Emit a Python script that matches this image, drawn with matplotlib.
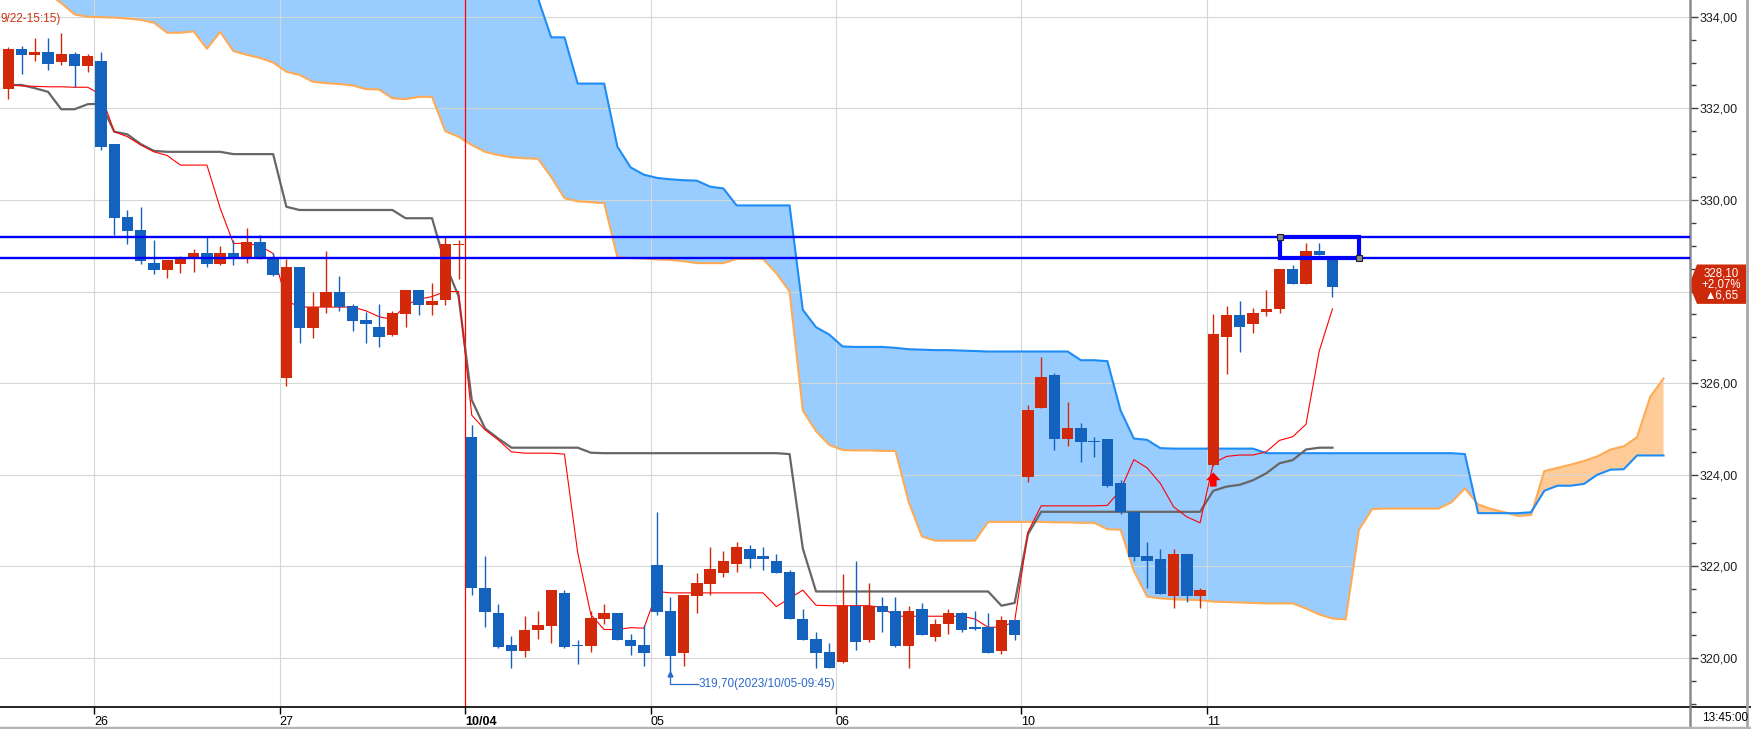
import numpy as np
import matplotlib.pyplot as plt
import matplotlib.transforms as mtransforms
from matplotlib.patches import Polygon, Rectangle
from matplotlib.lines import Line2D
from matplotlib.ticker import MultipleLocator

plt.rcParams['font.family'] = ['Liberation Sans', 'DejaVu Sans']

# 30-minute bars, 9/22 (tail) .. 10/11
opens = [332.42, 333.29, 333.16, 333.23, 333.01, 333.18, 332.93, 333.03, 331.23, 329.63,
         329.34, 328.62, 328.48, 328.61, 328.74, 328.83, 328.61, 328.83, 328.76, 329.08,
         328.74, 326.12, 328.54, 327.21, 327.66, 327.99, 327.68, 327.38, 327.23, 327.05,
         327.51, 328.03, 327.71, 327.81, 329.01, 324.83, 321.52, 320.99, 320.28, 320.16,
         320.60, 320.69, 321.42, 320.27, 320.26, 320.85, 320.97, 320.38, 320.28, 322.03,
         321.02, 320.11, 321.35, 321.62, 321.86, 322.05, 322.38, 322.23, 322.12, 321.88,
         320.86, 320.41, 320.12, 319.90, 321.13, 320.39, 321.13, 321.02, 320.26, 321.06,
         320.46, 320.74, 320.97, 320.67, 320.67, 320.16, 320.83, 323.96, 325.46, 326.18,
         324.77, 325.01, 324.73, 324.78, 323.81, 323.19, 322.22, 322.17, 321.35, 322.27,
         321.35, 324.22, 327.00, 327.49, 327.28, 327.56, 327.62, 328.49, 328.16, 328.88,
         328.72]
highs = [333.33, 333.35, 333.53, 333.53, 333.64, 333.24, 333.18, 333.24, 331.23, 329.78,
         329.84, 329.12, 328.69, 328.77, 328.93, 329.18, 328.99, 329.12, 329.38, 329.23,
         328.83, 328.72, 328.54, 327.99, 328.88, 328.34, 327.73, 327.56, 327.73, 327.58,
         328.03, 328.03, 328.19, 329.18, 329.12, 325.08, 322.22, 321.18, 320.48, 320.91,
         321.03, 321.48, 321.48, 320.38, 321.03, 321.18, 320.97, 320.52, 320.71, 323.18,
         321.32, 321.37, 321.85, 322.43, 322.33, 322.52, 322.47, 322.43, 322.27, 321.92,
         321.07, 320.57, 320.32, 321.83, 322.11, 321.63, 321.34, 321.34, 321.13, 321.20,
         320.86, 321.07, 321.01, 321.02, 320.97, 320.91, 320.83, 325.52, 326.58, 326.21,
         325.59, 325.13, 324.83, 324.78, 323.88, 323.19, 322.53, 322.37, 322.37, 322.27,
         321.53, 327.50, 327.68, 327.79, 327.63, 328.04, 328.49, 328.58, 329.07, 329.07,
         328.75]
lows = [332.20, 332.75, 333.03, 332.84, 332.95, 332.46, 332.80, 331.10, 329.23, 329.04,
        328.61, 328.38, 328.29, 328.40, 328.43, 328.54, 328.58, 328.58, 328.63, 328.72,
        328.34, 325.94, 326.88, 326.99, 327.54, 327.58, 327.14, 326.88, 326.79, 327.03,
        327.23, 327.49, 327.49, 327.70, 328.28, 321.37, 320.68, 320.21, 319.79, 320.03,
        320.42, 320.33, 320.21, 319.87, 320.13, 320.74, 320.38, 320.06, 319.83, 320.94,
        319.70, 319.83, 320.99, 321.37, 321.77, 321.88, 321.97, 321.92, 321.85, 320.85,
        320.39, 319.79, 319.77, 319.88, 320.17, 320.35, 320.57, 320.23, 319.79, 320.49,
        320.37, 320.52, 320.57, 320.62, 320.11, 320.08, 320.38, 323.83, 325.46, 324.53,
        324.63, 324.28, 324.39, 323.74, 323.14, 322.12, 321.53, 321.39, 321.08, 321.23,
        321.08, 324.20, 326.20, 326.68, 327.10, 327.46, 327.54, 328.16, 328.16, 328.80,
        327.89]
closes = [333.29, 333.16, 333.22, 332.97, 333.18, 332.93, 333.14, 331.16, 329.61, 329.33,
          328.67, 328.48, 328.69, 328.72, 328.83, 328.61, 328.83, 328.74, 329.08, 328.74,
          328.36, 328.54, 327.21, 327.66, 327.99, 327.66, 327.36, 327.28, 327.01, 327.52,
          328.03, 327.71, 327.80, 329.03, 329.03, 321.52, 321.01, 320.24, 320.16, 320.62,
          320.71, 321.48, 320.24, 320.26, 320.88, 320.97, 320.39, 320.27, 320.11, 321.01,
          320.04, 321.37, 321.63, 321.94, 322.12, 322.43, 322.16, 322.16, 321.86, 320.85,
          320.39, 320.11, 319.77, 321.14, 320.35, 321.13, 321.01, 320.26, 321.02, 320.49,
          320.75, 320.97, 320.62, 320.63, 320.11, 320.83, 320.50, 325.42, 326.13, 324.77,
          325.01, 324.72, 324.72, 323.76, 323.19, 322.21, 322.11, 321.39, 322.27, 321.35,
          321.48, 327.07, 327.48, 327.22, 327.52, 327.62, 328.49, 328.16, 328.88, 328.80,
          328.10]

tenkan = [332.51, 332.49, 332.48, 332.47, 332.47, 332.46, 332.46, 332.30, 331.49, 331.38,
          331.20, 331.05, 330.97, 330.76, 330.76, 330.76, 329.82, 329.05, 329.05, 329.00,
          328.83, 327.80, 327.66, 327.66, 327.66, 327.66, 327.66, 327.58, 327.45, 327.39,
          327.70, 327.83, 327.89, 328.00, 328.00, 325.30, 324.98, 324.76, 324.50, 324.47,
          324.47, 324.47, 324.45, 322.30, 320.94, 320.62, 320.62, 320.66, 320.65, 321.45,
          321.42, 321.42, 321.42, 321.42, 321.42, 321.42, 321.42, 321.42, 321.12, 321.30,
          321.48, 321.15, 321.14, 321.14, 321.14, 321.14, 321.10, 320.91, 320.91, 320.91,
          320.91, 320.91, 320.91, 320.85, 320.67, 320.67, 320.80, 322.75, 323.32, 323.32,
          323.32, 323.32, 323.32, 323.33, 323.67, 324.33, 324.15, 323.81, 323.30, 323.08,
          322.95, 324.25, 324.40, 324.43, 324.43, 324.50, 324.75, 324.83, 325.10, 326.70,
          327.62]
kijun = [332.51, 332.51, 332.44, 332.36, 331.98, 331.98, 332.09, 332.10, 331.49, 331.43,
         331.22, 331.07, 331.05, 331.05, 331.05, 331.05, 331.05, 331.00, 331.00, 331.00,
         331.00, 329.85, 329.78, 329.78, 329.78, 329.78, 329.78, 329.78, 329.78, 329.78,
         329.60, 329.60, 329.60, 328.60, 327.90, 325.63, 325.01, 324.79, 324.59, 324.59,
         324.59, 324.59, 324.59, 324.59, 324.48, 324.47, 324.47, 324.47, 324.47, 324.47,
         324.47, 324.47, 324.47, 324.47, 324.47, 324.47, 324.47, 324.47, 324.47, 324.45,
         322.39, 321.45, 321.45, 321.45, 321.45, 321.45, 321.45, 321.45, 321.45, 321.45,
         321.45, 321.45, 321.45, 321.45, 321.45, 321.14, 321.20, 322.70, 323.19, 323.19,
         323.19, 323.19, 323.19, 323.19, 323.19, 323.19, 323.19, 323.19, 323.19, 323.19,
         323.19, 323.65, 323.74, 323.78, 323.88, 324.03, 324.25, 324.32, 324.55, 324.59,
         324.59]

# leading spans (shifted ahead), one value per bar slot 0..125
span_a = [335.50, 335.50, 335.50, 335.50, 335.50, 335.50, 335.50, 335.50, 335.50, 335.50,
          335.50, 335.50, 335.50, 335.50, 335.50, 335.50, 335.50, 335.50, 335.50, 335.50,
          335.50, 335.50, 335.50, 335.50, 335.50, 335.50, 335.50, 335.50, 335.50, 335.50,
          335.50, 335.50, 335.50, 335.50, 335.50, 335.50, 335.50, 335.50, 335.50, 335.00,
          334.40, 333.55, 333.55, 332.54, 332.54, 332.54, 331.16, 330.71, 330.55, 330.48,
          330.45, 330.43, 330.42, 330.29, 330.25, 329.88, 329.88, 329.88, 329.88, 329.88,
          327.60, 327.22, 327.06, 326.80, 326.79, 326.79, 326.79, 326.77, 326.74, 326.73,
          326.72, 326.72, 326.71, 326.70, 326.69, 326.69, 326.69, 326.69, 326.69, 326.69,
          326.69, 326.50, 326.50, 326.48, 325.40, 324.79, 324.76, 324.58, 324.57, 324.57,
          324.57, 324.57, 324.57, 324.57, 324.57, 324.47, 324.47, 324.47, 324.47, 324.47,
          324.47, 324.47, 324.47, 324.47, 324.47, 324.47, 324.47, 324.47, 324.47, 324.47,
          324.45, 323.16, 323.16, 323.16, 323.16, 323.18, 323.65, 323.76, 323.76, 323.80,
          324.00, 324.11, 324.12, 324.42, 324.42, 324.42]
span_b = [334.90, 334.80, 334.70, 334.50, 334.30, 334.05, 334.00, 333.99, 333.98, 333.96,
          333.93, 333.87, 333.65, 333.65, 333.68, 333.30, 333.67, 333.25, 333.17, 333.10,
          333.00, 332.80, 332.73, 332.58, 332.55, 332.53, 332.50, 332.42, 332.41, 332.22,
          332.20, 332.25, 332.25, 331.50, 331.38, 331.20, 331.05, 330.98, 330.93, 330.91,
          330.90, 330.50, 330.04, 329.97, 329.95, 329.93, 328.75, 328.73, 328.72, 328.70,
          328.69, 328.66, 328.62, 328.62, 328.62, 328.71, 328.71, 328.71, 328.40, 328.00,
          325.40, 324.95, 324.65, 324.54, 324.53, 324.53, 324.52, 324.52, 323.40, 322.65,
          322.56, 322.56, 322.56, 322.56, 322.97, 322.97, 322.97, 322.97, 322.97, 322.96,
          322.96, 322.95, 322.95, 322.81, 322.80, 321.90, 321.34, 321.30, 321.28, 321.27,
          321.26, 321.23, 321.22, 321.21, 321.20, 321.19, 321.19, 321.19, 321.08, 320.95,
          320.86, 320.84, 322.80, 323.25, 323.26, 323.26, 323.26, 323.26, 323.26, 323.40,
          323.70, 323.35, 323.25, 323.18, 323.10, 323.12, 324.08, 324.15, 324.22, 324.30,
          324.40, 324.55, 324.62, 324.82, 325.70, 326.10]

day_edges = [6.5, 20.5, 34.5, 48.5, 62.5, 76.5, 90.5]
day_labels = ['26', '27', '10/04', '05', '06', '10', '11']
new_month_idx = 2
h_levels = [329.20, 328.74]
box_bars = [96, 102]
signal_bar = 91
min_bar = 50
min_stamp = '(2023/10/05-09:45)'
day_change = 6.65
last_time = '13:45:00'

RED = '#D2290B'
BLUE = '#1262BE'

opens, highs, lows, closes = map(np.array, (opens, highs, lows, closes))
n = len(closes)
k = np.arange(n)
kc = np.arange(len(span_a))
span_a = np.array(span_a)
span_b = np.array(span_b)

W, H = 1751, 729
fig = plt.figure(figsize=(W / 100, H / 100), dpi=100)
ax = fig.add_axes([0, 22 / H, 1690 / W, 707 / H])
ax.set_xlim(-0.627, 127.0)
ax.set_ylim(318.928, 334.365)

# cloud
ax.fill_between(kc, span_a, span_b, where=span_a >= span_b, interpolate=True,
                color='#99CCFF', lw=0, zorder=1)
ax.fill_between(kc, span_a, span_b, where=span_b > span_a, interpolate=True,
                color='#FFCC99', lw=0, zorder=1)
ax.plot(kc, span_b, color='#FFAA55', lw=1.5, zorder=2.2)
ax.plot(kc, span_a, color='#1E8CF5', lw=1.5, zorder=2.3)

# grid
for v in range(320, 335, 2):
    ax.axhline(v, color='#D4D8D4', lw=0.8, zorder=1.5)
for i, e in enumerate(day_edges):
    if i == new_month_idx:
        ax.axvline(e, color='#FF0000', lw=0.9, zorder=2.5)
    else:
        ax.axvline(e, color='#D4D8D4', lw=0.8, zorder=1.5)

# ichimoku lines
ax.plot(k, kijun, color='#666666', lw=1.6, zorder=3)
ax.plot(k, tenkan, color='#FF0000', lw=0.8, zorder=3.1)

# candles
up = closes > opens
cols = np.where(up, RED, BLUE)
ax.vlines(k, lows, highs, colors=cols, lw=1.0, zorder=4)
body = np.maximum(np.abs(closes - opens), 0.025)
ax.bar(k, body, bottom=np.minimum(opens, closes), width=0.86, color=cols, lw=0, zorder=5)

# horizontal lines and box
for lv in h_levels:
    ax.axhline(lv, color='#0000FF', lw=1.7, zorder=6)
ax.add_patch(Rectangle((box_bars[0], min(h_levels)), box_bars[1] - box_bars[0],
                       max(h_levels) - min(h_levels), fill=False, ec='#0000FF', lw=3.0, zorder=7))
ax.plot([box_bars[0], box_bars[1]], [max(h_levels), min(h_levels)], ls='none', marker='s',
        ms=4.5, mfc='#8A8A8A', mec='#222222', mew=0.8, zorder=8)

# buy signal arrow
tip = lows[signal_bar] - 0.15
sx = signal_bar
ax.add_patch(Polygon([(sx, tip), (sx + 0.55, tip - 0.17), (sx + 0.25, tip - 0.17),
                      (sx + 0.25, tip - 0.31), (sx - 0.25, tip - 0.31), (sx - 0.25, tip - 0.17),
                      (sx - 0.55, tip - 0.17)], closed=True, color='#FF0000', lw=0, zorder=6))

# period low annotation
lo = lows[min_bar]
ax.plot([min_bar, min_bar, min_bar + 2.05], [lo - 0.05, lo - 0.27, lo - 0.27],
        color='#2A6AC8', lw=0.9, zorder=6)
ax.plot([min_bar], [lo - 0.06], marker='^', ms=3.5, color='#2A6AC8', zorder=6)
ax.text(min_bar + 2.1, lo - 0.27, f"{lo:.2f}".replace('.', ',') + min_stamp,
        color='#2A6AC8', fontsize=8.5, va='center', ha='left', zorder=6)

# period high tail (cut at the left edge)
ax.text(-0.6, 333.95, '9/22-15:15)', color='#D23010', fontsize=8.5, va='center', ha='left')

# axes styling
c = closes[-1]
ax.yaxis.tick_right()
yt = np.arange(320, 335, 2)
ax.set_yticks(yt)
# the tick label hidden behind the last-price tag is left empty
ax.set_yticklabels(['' if abs(v - c) < 0.6 else f"{v:.2f}".replace('.', ',') for v in yt])
ax.yaxis.set_minor_locator(MultipleLocator(0.5))
ax.tick_params(axis='y', which='major', length=6, width=1, color='#404040', pad=1,
               labelsize=9, labelcolor='#202020')
ax.tick_params(axis='y', which='minor', length=4, width=1, color='#404040')
ax.set_xticks(day_edges)
ax.set_xticklabels(day_labels)
ax.tick_params(axis='x', length=5, width=1, color='black', pad=1.5, labelsize=9)
for i, lab in enumerate(ax.get_xticklabels()):
    lab.set_horizontalalignment('left')
    if i == new_month_idx:
        lab.set_fontweight('bold')
for s in ('top', 'left'):
    ax.spines[s].set_visible(False)
ax.spines['right'].set_color('#8A8A8A')
ax.spines['right'].set_linewidth(1.8)
ax.spines['bottom'].set_color('black')
ax.spines['bottom'].set_linewidth(1.2)

# frame bits outside the plot
fig.add_artist(Line2D([1690 / W, 1], [22 / H, 22 / H], color='black', lw=1.2))
fig.add_artist(Line2D([1690 / W, 1690 / W], [0, 22 / H], color='#8A8A8A', lw=1.8))
fig.add_artist(Line2D([1747 / W, 1747 / W], [0, 1], color='#A8A8A8', lw=2))
fig.add_artist(Line2D([0, 1], [1.5 / H, 1.5 / H], color='#B4B4B4', lw=2.5))
fig.text(1702 / W, 1 - 718 / H, last_time, fontsize=8.5, va='center', ha='left')

# last price tag
pct = day_change / (c - day_change) * 100
trans = mtransforms.blended_transform_factory(fig.transFigure, ax.transData)
fig.add_artist(Polygon([(1697 / W, c + 0.49), (1746 / W, c + 0.49), (1746 / W, c - 0.37),
                        (1697 / W, c - 0.37), (1691.5 / W, c - 0.08), (1691.5 / W, c + 0.18)],
                       closed=True, color='#CC2A0A', lw=0, transform=trans))
tag = f"{c:.2f}".replace('.', ',') + "\n" + f"+{pct:.2f}%".replace('.', ',') + "\n" + \
      "\u25B2" + f"{day_change:.2f}".replace('.', ',')
fig.text(1721.5 / W, c + 0.06, tag, transform=trans, color='white', fontsize=8.3,
         ha='center', va='center', linespacing=0.9)

fig.savefig('out.png', dpi=100)
